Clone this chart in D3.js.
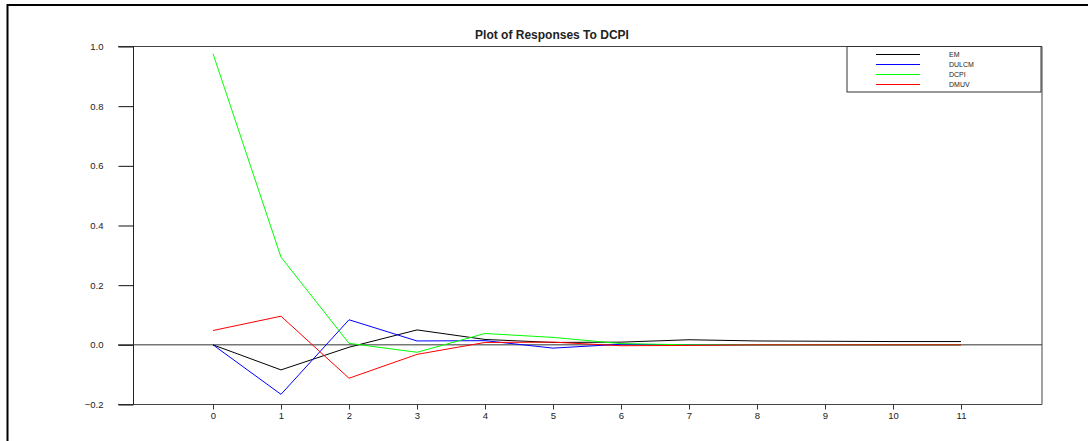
<!DOCTYPE html>
<html>
<head>
<meta charset="utf-8">
<script src="https://cdn.jsdelivr.net/npm/d3@7/dist/d3.min.js"></script>
<style>
  body { margin: 0; background: #fff; overflow: hidden; }
  svg { display: block; }
  text { font-family: "Liberation Sans", Arial, sans-serif; fill: #222; }
</style>
</head>
<body>
<svg id="chart"></svg>
<script>
const width = 1088;
const height = 441;

// horizon steps and responses
const steps = [0, 1, 2, 3, 4, 5, 6, 7, 8, 9, 10, 11];
const seriesNames = ['EM', 'DULCM', 'DCPI', 'DMUV'];
const seriesColors = ['#000000', '#0000ff', '#00ff00', '#ff0000'];
const em = [0, -0.084, -0.008, 0.050, 0.018, 0.008, 0.009, 0.017, 0.013, 0.012, 0.011, 0.011];
const dulcm = [0, -0.166, 0.084, 0.013, 0.014, -0.011, 0.002, 0.000, 0.000, 0.000, 0.000, 0.000];
const dcpi = [0.976, 0.294, 0.005, -0.025, 0.038, 0.025, 0.004, 0.000, 0.000, 0.000, 0.000, 0.000];
const dmuv = [0.048, 0.096, -0.112, -0.032, 0.008, 0.009, -0.003, -0.002, 0.000, 0.000, 0.000, 0.000];
const yTicks = [-0.2, 0.0, 0.2, 0.4, 0.6, 0.8, 1.0];

const series = [em, dulcm, dcpi, dmuv];

const plotLeft = 118;
const plotRight = 1042;
const plotTop = 46.5;
const plotBottom = 404.5;
const yAxisX = 133.5;

const svg = d3.select('#chart')
    .attr('width', width)
    .attr('height', height);

// outer frame: only its top and left edges fall inside the window
svg.append('path')
    .attr('d', `M7.5,${height + 5}V5H${width + 5}`)
    .attr('fill', 'none')
    .attr('stroke', '#000')
    .attr('stroke-width', 2);

const x = d3.scaleLinear().domain([0, 11]).range([213, 961]);
const y = d3.scaleLinear().domain([-0.2, 1.0]).range([plotBottom, plotTop]);

// plot box
svg.append('path')
    .attr('d', `M${plotLeft},${plotTop}H${plotRight}V${plotBottom}H${plotLeft}`)
    .attr('fill', 'none')
    .attr('stroke', '#444')
    .attr('stroke-width', 1);

svg.append('line')
    .attr('x1', yAxisX).attr('x2', yAxisX)
    .attr('y1', plotTop).attr('y2', plotBottom)
    .attr('stroke', '#222');

// zero line
svg.append('line')
    .attr('x1', plotLeft).attr('x2', plotRight)
    .attr('y1', y(0)).attr('y2', y(0))
    .attr('stroke', '#333');

const yAxis = svg.append('g')
    .attr('transform', `translate(${yAxisX},0)`)
    .call(d3.axisLeft(y).tickValues(yTicks).tickFormat(d3.format('.1f')).tickSize(15).tickPadding(15));
yAxis.select('.domain').remove();
yAxis.selectAll('line').attr('stroke', '#111');
yAxis.selectAll('text').style('font-size', '9.5px').attr('fill', '#333');

const xAxis = svg.append('g')
    .attr('transform', `translate(0,${plotBottom})`)
    .call(d3.axisBottom(x).tickValues(steps).tickFormat(d3.format('d')).tickSize(5).tickPadding(3));
xAxis.select('.domain').remove();
xAxis.selectAll('line').attr('stroke', '#333');
xAxis.selectAll('text').style('font-size', '9.5px').attr('fill', '#333');

const line = d3.line()
    .x((d, i) => x(steps[i]))
    .y(d => y(d));

svg.selectAll('.resp').data(series).enter().append('path')
    .attr('class', 'resp')
    .attr('d', d => line(d))
    .attr('fill', 'none')
    .attr('stroke', (d, i) => seriesColors[i])
    .attr('stroke-width', 1);

svg.append('text')
    .attr('x', 552).attr('y', 38.5)
    .attr('text-anchor', 'middle')
    .style('font-size', '12px')
    .style('font-weight', 'bold')
    .attr('fill', '#000')
    .text('Plot of Responses To DCPI');

// legend
const legend = svg.append('g');
legend.append('rect')
    .attr('x', 847).attr('y', 46.5)
    .attr('width', 194).attr('height', 45.5)
    .attr('fill', '#fff')
    .attr('stroke', '#333');

const items = legend.selectAll('.item').data(seriesNames).enter().append('g')
    .attr('transform', (d, i) => `translate(0,${54.5 + i * 10})`);
items.append('line')
    .attr('x1', 876).attr('x2', 920)
    .attr('stroke', (d, i) => seriesColors[i]);
items.append('text')
    .attr('x', 949).attr('dy', '0.35em')
    .style('font-size', '7px')
    .attr('fill', '#333')
    .text(d => d);
</script>
</body>
</html>
